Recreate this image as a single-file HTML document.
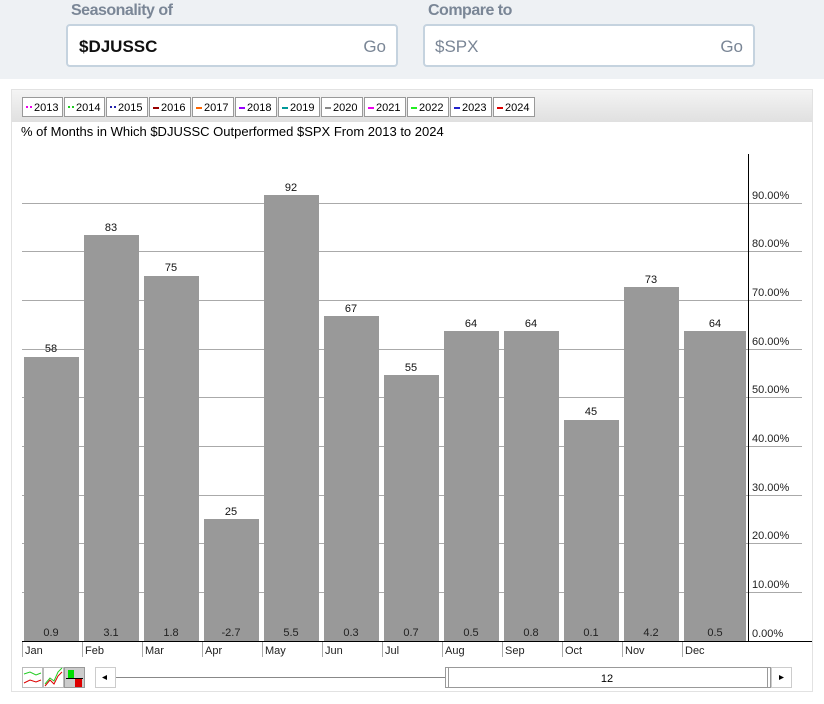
<!DOCTYPE html>
<html><head><meta charset="utf-8"><style>
body{margin:0;width:824px;height:704px;background:#fff;font-family:"Liberation Sans",sans-serif;position:relative;overflow:hidden}
.top{position:absolute;left:0;top:0;width:824px;height:79px;background:#eef1f4}
.lbl{position:absolute;top:2px;font-weight:bold;color:#7a8696;font-size:16px;letter-spacing:-0.5px}
.box{position:absolute;top:24px;width:332px;height:43px;background:#fff;border:2px solid #c5d3df;border-radius:4px;box-sizing:border-box}
.box span{position:absolute;top:11px;font-size:17px}
.panel{position:absolute;left:11px;top:89px;width:802px;height:603px;border:1px solid #e2e2e2;background:#fff;box-sizing:border-box}
.leg{position:absolute;left:12px;top:90px;width:800px;height:32px;background:linear-gradient(#f4f4f4,#e0e0e0)}
.lg{position:absolute;top:97px;height:20px;border:1px solid #999;background:#fff;font-size:11px;line-height:20px;box-sizing:border-box;padding-left:3px}
.lg i{display:inline-block;width:6px;height:2px;vertical-align:middle;margin-right:2px}
svg{position:absolute;left:0;top:0}
</style></head><body>
<div class="top"></div>
<div class="lbl" style="left:71px">Seasonality of</div>
<div class="lbl" style="left:428px">Compare to</div>
<div class="box" style="left:66px"><span style="left:11px;font-weight:bold;color:#111">$DJUSSC</span><span style="right:10px;color:#7a8696">Go</span></div>
<div class="box" style="left:423px"><span style="left:10px;color:#7a8696">$SPX</span><span style="right:10px;color:#7a8696">Go</span></div>
<div class="panel"></div>
<div class="leg"></div>
<div class="lg" style="left:22px;width:41px"><i style="border-top:2px dotted #e0e"></i>2013</div>
<div class="lg" style="left:64px;width:41px"><i style="border-top:2px dotted #2c2"></i>2014</div>
<div class="lg" style="left:106px;width:42px"><i style="border-top:2px dotted #22a"></i>2015</div>
<div class="lg" style="left:149px;width:42px"><i style="background:#900"></i>2016</div>
<div class="lg" style="left:192px;width:42px"><i style="background:#f60"></i>2017</div>
<div class="lg" style="left:235px;width:42px"><i style="background:#90f"></i>2018</div>
<div class="lg" style="left:278px;width:42px"><i style="background:#099"></i>2019</div>
<div class="lg" style="left:321px;width:42px"><i style="background:#888"></i>2020</div>
<div class="lg" style="left:364px;width:42px"><i style="background:#e0e"></i>2021</div>
<div class="lg" style="left:407px;width:42px"><i style="background:#2e2"></i>2022</div>
<div class="lg" style="left:450px;width:42px"><i style="background:#22c"></i>2023</div>
<div class="lg" style="left:493px;width:42px"><i style="background:#d00"></i>2024</div>
<svg width="824" height="704" font-family="Liberation Sans, sans-serif">
<text x="21" y="136" font-size="13">% of Months in Which $DJUSSC Outperformed $SPX From 2013 to 2024</text>
<g stroke="#aaa" stroke-width="1">
<line x1="22" x2="802" y1="203.5" y2="203.5"/><line x1="22" x2="802" y1="251.5" y2="251.5"/><line x1="22" x2="802" y1="300.5" y2="300.5"/><line x1="22" x2="802" y1="349.5" y2="349.5"/><line x1="22" x2="802" y1="397.5" y2="397.5"/><line x1="22" x2="802" y1="446.5" y2="446.5"/><line x1="22" x2="802" y1="495.5" y2="495.5"/><line x1="22" x2="802" y1="543.5" y2="543.5"/><line x1="22" x2="802" y1="592.5" y2="592.5"/>
</g>
<g fill="#999">
<rect x="24" y="357" width="55" height="284"/><rect x="84" y="235" width="55" height="406"/><rect x="144" y="276" width="55" height="365"/><rect x="204" y="519" width="55" height="122"/><rect x="264" y="195" width="55" height="446"/><rect x="324" y="316" width="55" height="325"/><rect x="384" y="375" width="55" height="266"/><rect x="444" y="331" width="55" height="310"/><rect x="504" y="331" width="55" height="310"/><rect x="564" y="420" width="55" height="221"/><rect x="624" y="287" width="55" height="354"/><rect x="684" y="331" width="62" height="310"/>
</g>
<g font-size="11" text-anchor="middle" fill="#111">
<text x="51" y="352">58</text><text x="111" y="231">83</text><text x="171" y="271">75</text><text x="231" y="515">25</text><text x="291" y="191">92</text><text x="351" y="312">67</text><text x="411" y="371">55</text><text x="471" y="327">64</text><text x="531" y="327">64</text><text x="591" y="415">45</text><text x="651" y="283">73</text><text x="715" y="327">64</text>
</g>
<g font-size="11" text-anchor="middle" fill="#222">
<text x="51" y="636">0.9</text><text x="111" y="636">3.1</text><text x="171" y="636">1.8</text><text x="231" y="636">-2.7</text><text x="291" y="636">5.5</text><text x="351" y="636">0.3</text><text x="411" y="636">0.7</text><text x="471" y="636">0.5</text><text x="531" y="636">0.8</text><text x="591" y="636">0.1</text><text x="651" y="636">4.2</text><text x="715" y="636">0.5</text>
</g>
<line x1="748.5" x2="748.5" y1="154" y2="641" stroke="#000"/>
<line x1="22" x2="812" y1="641.5" y2="641.5" stroke="#000"/>
<g font-size="11" fill="#222">
<text x="752" y="199">90.00%</text><text x="752" y="247">80.00%</text><text x="752" y="296">70.00%</text><text x="752" y="345">60.00%</text><text x="752" y="393">50.00%</text><text x="752" y="442">40.00%</text><text x="752" y="491">30.00%</text><text x="752" y="539">20.00%</text><text x="752" y="588">10.00%</text><text x="752" y="637">0.00%</text>
</g>
<g stroke="#aaa"><line x1="22.5" x2="22.5" y1="642" y2="657"/><line x1="82.5" x2="82.5" y1="642" y2="657"/><line x1="142.5" x2="142.5" y1="642" y2="657"/><line x1="202.5" x2="202.5" y1="642" y2="657"/><line x1="262.5" x2="262.5" y1="642" y2="657"/><line x1="322.5" x2="322.5" y1="642" y2="657"/><line x1="382.5" x2="382.5" y1="642" y2="657"/><line x1="442.5" x2="442.5" y1="642" y2="657"/><line x1="502.5" x2="502.5" y1="642" y2="657"/><line x1="562.5" x2="562.5" y1="642" y2="657"/><line x1="622.5" x2="622.5" y1="642" y2="657"/><line x1="682.5" x2="682.5" y1="642" y2="657"/></g>
<g font-size="11" fill="#222">
<text x="25" y="654">Jan</text><text x="85" y="654">Feb</text><text x="145" y="654">Mar</text><text x="205" y="654">Apr</text><text x="265" y="654">May</text><text x="325" y="654">Jun</text><text x="385" y="654">Jul</text><text x="445" y="654">Aug</text><text x="505" y="654">Sep</text><text x="565" y="654">Oct</text><text x="625" y="654">Nov</text><text x="685" y="654">Dec</text>
</g>
<rect x="22.5" y="667.5" width="20" height="20" fill="#fff" stroke="#bbb"/>
<polyline points="24,674 30,672 36,675 41,673" fill="none" stroke="#2c2"/><polyline points="24,683 30,680 36,682 41,680" fill="none" stroke="#d00"/>
<rect x="43.5" y="667.5" width="20" height="20" fill="#fff" stroke="#bbb"/>
<polyline points="45,684 50,678 54,681 58,672 62,668" fill="none" stroke="#2c2"/><polyline points="45,686 50,680 54,684 58,676 62,672" fill="none" stroke="#d00"/>
<rect x="64.5" y="667.5" width="20" height="20" fill="#ccc" stroke="#999"/>
<rect x="68" y="670" width="6" height="8" fill="#0d0"/><rect x="75" y="679" width="7" height="8" fill="#d00"/><line x1="66" x2="83" y1="678.5" y2="678.5" stroke="#000"/>
<rect x="95.5" y="667.5" width="20" height="20" fill="#fff" stroke="#ccc"/>
<polygon points="102,677.5 107,675 107,680" fill="#000"/>
<line x1="116" x2="446" y1="677.5" y2="677.5" stroke="#888"/>
<rect x="445.5" y="667.5" width="325" height="20" fill="#fff" stroke="#999"/>
<line x1="448.5" x2="448.5" y1="668" y2="687" stroke="#999"/><line x1="767.5" x2="767.5" y1="668" y2="687" stroke="#999"/>
<text x="607" y="682" font-size="11" text-anchor="middle">12</text>
<rect x="771.5" y="667.5" width="20" height="20" fill="#fff" stroke="#ccc"/>
<polygon points="784,677.5 779,675 779,680" fill="#000"/>
</svg>
</body></html>
